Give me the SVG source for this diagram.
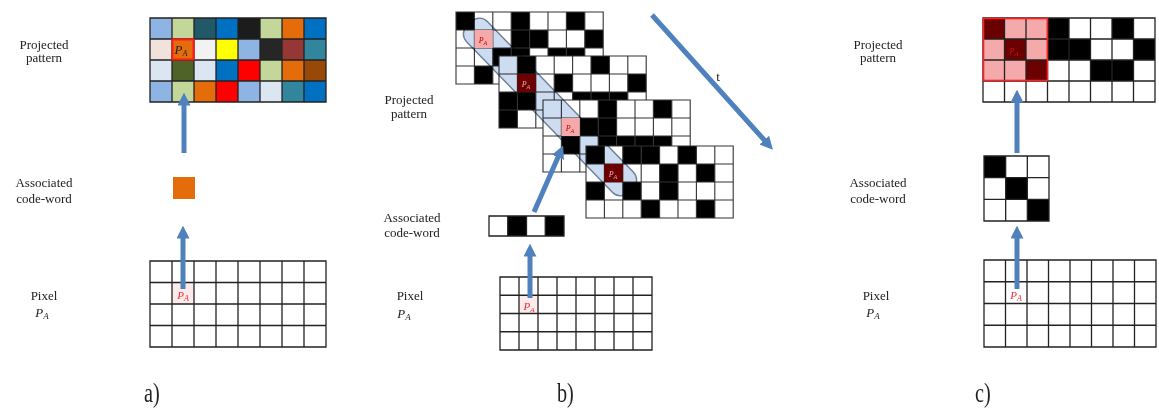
<svg xmlns="http://www.w3.org/2000/svg" xmlns:xlink="http://www.w3.org/1999/xlink" width="1159" height="417" viewBox="0 0 1159 417">
  <style>
    .lbl { font-family: "Liberation Serif", "DejaVu Serif", serif; font-size: 13px; fill: #222; text-anchor: middle; }
    .pi { font-family: "Liberation Serif", "DejaVu Serif", serif; font-style: italic; font-size: 13px; fill: #222; text-anchor: middle; }
    .pr { font-family: "Liberation Serif", "DejaVu Serif", serif; font-style: italic; font-size: 11px; fill: #e8303a; text-anchor: middle; }
    .ps { font-family: "Liberation Serif", "DejaVu Serif", serif; font-style: italic; font-size: 8px; text-anchor: middle; }
    .cap { font-family: "Liberation Serif", "DejaVu Serif", serif; font-size: 27px; fill: #222; }
    .k { fill: #000; }
    .w { fill: #fff; }
    .grid { fill: none; stroke: #222; stroke-width: 1.3; }
    .gridb { fill: none; stroke: #333; stroke-width: 1.1; }
    .arr { stroke: #4f81bd; stroke-width: 5; fill: none; marker-end: url(#ah); }
    .pk { fill: #f4a9ab; }
    .dk { fill: #6b0000; }
  </style>
  <defs>
    <marker id="ah" viewBox="0 0 10 10" refX="2" refY="5" markerWidth="13" markerHeight="13" markerUnits="userSpaceOnUse" orient="auto">
      <path d="M0,0 L10,5 L0,10 z" fill="#4f81bd"/>
    </marker>
    <!-- 8x4 grid used by the stacked patterns (cells 18.4 x 18) -->
    <path id="bwgrid" d="M0 0H147.2V72H0Z M18.4 0V72 M36.8 0V72 M55.2 0V72 M73.6 0V72 M92 0V72 M110.4 0V72 M128.8 0V72 M0 18H147.2 M0 36H147.2 M0 54H147.2"/>
  </defs>

  <rect width="1159" height="417" fill="#fff"/>

  <!-- ===== a) colour-coded pattern ===== -->
  <g id="labels-a">
    <text class="lbl" x="44" y="49">Projected</text>
    <text class="lbl" x="44" y="62">pattern</text>
    <text class="lbl" x="44" y="187">Associated</text>
    <text class="lbl" x="44" y="203">code-word</text>
    <text class="lbl" x="44" y="300">Pixel</text>
    <text class="pi" x="42" y="317">P<tspan font-size="9" dy="2">A</tspan></text>
  </g>

  <g id="pattern-a">
    <rect x="150" y="18" width="22" height="21" fill="#8eb4e3"/>
    <rect x="172" y="18" width="22" height="21" fill="#c4d79b"/>
    <rect x="194" y="18" width="22" height="21" fill="#215968"/>
    <rect x="216" y="18" width="22" height="21" fill="#0070c0"/>
    <rect x="238" y="18" width="22" height="21" fill="#1c1c1c"/>
    <rect x="260" y="18" width="22" height="21" fill="#c4d79b"/>
    <rect x="282" y="18" width="22" height="21" fill="#e46c0a"/>
    <rect x="304" y="18" width="22" height="21" fill="#0070c0"/>

    <rect x="150" y="39" width="22" height="21" fill="#f2e2dc"/>
    <rect x="172" y="39" width="22" height="21" fill="#e46c0a"/>
    <rect x="194" y="39" width="22" height="21" fill="#f2f2f2"/>
    <rect x="216" y="39" width="22" height="21" fill="#ffff00"/>
    <rect x="238" y="39" width="22" height="21" fill="#8eb4e3"/>
    <rect x="260" y="39" width="22" height="21" fill="#262626"/>
    <rect x="282" y="39" width="22" height="21" fill="#953735"/>
    <rect x="304" y="39" width="22" height="21" fill="#31859c"/>

    <rect x="150" y="60" width="22" height="21" fill="#dce6f2"/>
    <rect x="172" y="60" width="22" height="21" fill="#4f6228"/>
    <rect x="194" y="60" width="22" height="21" fill="#dce6f2"/>
    <rect x="216" y="60" width="22" height="21" fill="#0070c0"/>
    <rect x="238" y="60" width="22" height="21" fill="#ff0000"/>
    <rect x="260" y="60" width="22" height="21" fill="#c4d79b"/>
    <rect x="282" y="60" width="22" height="21" fill="#e46c0a"/>
    <rect x="304" y="60" width="22" height="21" fill="#984807"/>

    <rect x="150" y="81" width="22" height="21" fill="#8eb4e3"/>
    <rect x="172" y="81" width="22" height="21" fill="#c4d79b"/>
    <rect x="194" y="81" width="22" height="21" fill="#e46c0a"/>
    <rect x="216" y="81" width="22" height="21" fill="#ff0000"/>
    <rect x="238" y="81" width="22" height="21" fill="#8eb4e3"/>
    <rect x="260" y="81" width="22" height="21" fill="#dce6f2"/>
    <rect x="282" y="81" width="22" height="21" fill="#31859c"/>
    <rect x="304" y="81" width="22" height="21" fill="#0070c0"/>

    <path class="grid" d="M150 18H326V102H150Z M172 18V102 M194 18V102 M216 18V102 M238 18V102 M260 18V102 M282 18V102 M304 18V102 M150 39H326 M150 60H326 M150 81H326"/>
    <rect x="172.5" y="39.5" width="21" height="20" fill="none" stroke="#ff1a1a" stroke-width="2"/>
    <text class="pi" x="181" y="54" font-size="12">P<tspan font-size="8" dy="2">A</tspan></text>
  </g>

  <g id="codeword-a">
    <rect x="173" y="177" width="22" height="22" fill="#e46c0a"/>
  </g>

  <g id="pixels-a">
    <rect x="172" y="282.5" width="22" height="21.5" fill="#fdeaea"/>
    <path class="grid" d="M150 261H326V347H150Z M172 261V347 M194 261V347 M216 261V347 M238 261V347 M260 261V347 M282 261V347 M304 261V347 M150 282.5H326 M150 304H326 M150 325.5H326"/>
    <text class="pr" x="183" y="299">P<tspan font-size="8" dy="2">A</tspan></text>
  </g>

  <!-- ===== b) time-multiplexed binary patterns ===== -->
  <g id="labels-b">
    <text class="lbl" x="409" y="104">Projected</text>
    <text class="lbl" x="409" y="118">pattern</text>
    <text class="lbl" x="412" y="222">Associated</text>
    <text class="lbl" x="412" y="237">code-word</text>
    <text class="lbl" x="410" y="300">Pixel</text>
    <text class="pi" x="404" y="318">P<tspan font-size="9" dy="2">A</tspan></text>
  </g>

  <g id="pattern-b1" transform="translate(456,12)">
    <rect width="147.2" height="72" class="w"/>
    <rect x="0" y="0" width="18.4" height="18" class="k"/>
    <rect x="55.2" y="0" width="18.4" height="18" class="k"/>
    <rect x="110.4" y="0" width="18.4" height="18" class="k"/>
    <rect x="55.2" y="18" width="18.4" height="18" class="k"/>
    <rect x="73.6" y="18" width="18.4" height="18" class="k"/>
    <rect x="128.8" y="18" width="18.4" height="18" class="k"/>
    <rect x="36.8" y="36" width="18.4" height="18" class="k"/>
    <rect x="55.2" y="36" width="18.4" height="18" class="k"/>
    <rect x="92" y="36" width="18.4" height="18" class="k"/>
    <rect x="110.4" y="36" width="18.4" height="18" class="k"/>
    <rect x="18.4" y="54" width="18.4" height="18" class="k"/>
    <rect x="73.6" y="54" width="18.4" height="18" class="k"/>
    <rect x="128.8" y="54" width="18.4" height="18" class="k"/>
    <use xlink:href="#bwgrid" class="gridb"/>
  </g>

  <g id="pattern-b2" transform="translate(499,56)">
    <rect width="147.2" height="72" class="w"/>
    <rect x="18.4" y="0" width="18.4" height="18" class="k"/>
    <rect x="92" y="0" width="18.4" height="18" class="k"/>
    <rect x="18.4" y="18" width="18.4" height="18" class="k"/>
    <rect x="55.2" y="18" width="18.4" height="18" class="k"/>
    <rect x="128.8" y="18" width="18.4" height="18" class="k"/>
    <rect x="0" y="36" width="18.4" height="18" class="k"/>
    <rect x="18.4" y="36" width="18.4" height="18" class="k"/>
    <rect x="73.6" y="36" width="18.4" height="18" class="k"/>
    <rect x="92" y="36" width="18.4" height="18" class="k"/>
    <rect x="110.4" y="36" width="18.4" height="18" class="k"/>
    <rect x="0" y="54" width="18.4" height="18" class="k"/>
    <rect x="55.2" y="54" width="18.4" height="18" class="k"/>
    <rect x="110.4" y="54" width="18.4" height="18" class="k"/>
    <use xlink:href="#bwgrid" class="gridb"/>
  </g>

  <g id="pattern-b3" transform="translate(543,100)">
    <rect width="147.2" height="72" class="w"/>
    <rect x="55.2" y="0" width="18.4" height="18" class="k"/>
    <rect x="110.4" y="0" width="18.4" height="18" class="k"/>
    <rect x="36.8" y="18" width="18.4" height="18" class="k"/>
    <rect x="55.2" y="18" width="18.4" height="18" class="k"/>
    <rect x="18.4" y="36" width="18.4" height="18" class="k"/>
    <rect x="55.2" y="36" width="18.4" height="18" class="k"/>
    <rect x="73.6" y="36" width="18.4" height="18" class="k"/>
    <rect x="92" y="36" width="18.4" height="18" class="k"/>
    <rect x="110.4" y="36" width="18.4" height="18" class="k"/>
    <rect x="73.6" y="54" width="18.4" height="18" class="k"/>
    <rect x="110.4" y="54" width="18.4" height="18" class="k"/>
    <use xlink:href="#bwgrid" class="gridb"/>
  </g>

  <g id="pattern-b4" transform="translate(586,146)">
    <rect width="147.2" height="72" class="w"/>
    <rect x="0" y="0" width="18.4" height="18" class="k"/>
    <rect x="36.8" y="0" width="18.4" height="18" class="k"/>
    <rect x="55.2" y="0" width="18.4" height="18" class="k"/>
    <rect x="92" y="0" width="18.4" height="18" class="k"/>
    <rect x="18.4" y="18" width="18.4" height="18" class="k"/>
    <rect x="73.6" y="18" width="18.4" height="18" class="k"/>
    <rect x="110.4" y="18" width="18.4" height="18" class="k"/>
    <rect x="0" y="36" width="18.4" height="18" class="k"/>
    <rect x="36.8" y="36" width="18.4" height="18" class="k"/>
    <rect x="73.6" y="36" width="18.4" height="18" class="k"/>
    <rect x="55.2" y="54" width="18.4" height="18" class="k"/>
    <rect x="110.4" y="54" width="18.4" height="18" class="k"/>
    <use xlink:href="#bwgrid" class="gridb"/>
  </g>

  <!-- band following the same pixel through the sequence (tints white cells, keeps black cells dark) -->
  <g id="track-b">
    <rect x="-116" y="-14.5" width="232" height="29" rx="11" transform="translate(550,107) rotate(45.9)" fill="#cddcf0" stroke="#6d7f95" stroke-width="1.4" style="mix-blend-mode:multiply"/>
    <rect x="474.4" y="30" width="18.4" height="18" class="pk"/>
    <rect x="517.4" y="74" width="18.4" height="18" class="dk"/>
    <rect x="561.4" y="118" width="18.4" height="18" class="pk"/>
    <rect x="604.4" y="164" width="18.4" height="18" class="dk"/>
    <text class="ps" x="483" y="43" fill="#c00000">P<tspan font-size="6" dy="1.5">A</tspan></text>
    <text class="ps" x="526" y="87" fill="#f4a9ab">P<tspan font-size="6" dy="1.5">A</tspan></text>
    <text class="ps" x="570" y="131" fill="#c00000">P<tspan font-size="6" dy="1.5">A</tspan></text>
    <text class="ps" x="613" y="177" fill="#f4a9ab">P<tspan font-size="6" dy="1.5">A</tspan></text>
  </g>

  <g id="codeword-b">
    <rect x="489" y="216" width="75" height="20" class="w"/>
    <rect x="507.75" y="216" width="18.75" height="20" class="k"/>
    <rect x="545.25" y="216" width="18.75" height="20" class="k"/>
    <path class="grid" d="M489 216H564V236H489Z M507.75 216V236 M526.5 216V236 M545.25 216V236"/>
  </g>

  <g id="pixels-b">
    <rect x="519" y="295.25" width="19" height="18.25" fill="#fdeaea"/>
    <path class="grid" d="M500 277H652V350H500Z M519 277V350 M538 277V350 M557 277V350 M576 277V350 M595 277V350 M614 277V350 M633 277V350 M500 295.25H652 M500 313.5H652 M500 331.75H652"/>
    <text class="pr" x="529" y="310" font-size="10">P<tspan font-size="7" dy="2">A</tspan></text>
  </g>

  <g id="time-axis">
    <text class="lbl" x="718" y="81" font-size="11">t</text>
  </g>

  <!-- ===== c) spatial neighbourhood pattern ===== -->
  <g id="labels-c">
    <text class="lbl" x="878" y="49">Projected</text>
    <text class="lbl" x="878" y="62">pattern</text>
    <text class="lbl" x="878" y="187">Associated</text>
    <text class="lbl" x="878" y="203">code-word</text>
    <text class="lbl" x="876" y="300">Pixel</text>
    <text class="pi" x="873" y="317">P<tspan font-size="9" dy="2">A</tspan></text>
  </g>

  <g id="pattern-c">
    <rect x="983" y="18" width="172" height="84" class="w"/>
    <!-- 3x3 window around the pixel -->
    <rect x="983" y="18" width="64.5" height="63" class="pk"/>
    <rect x="983" y="18" width="21.5" height="21" class="dk"/>
    <rect x="1004.5" y="39" width="21.5" height="21" class="dk"/>
    <rect x="1026" y="60" width="21.5" height="21" class="dk"/>
    <!-- remaining binary cells -->
    <rect x="1047.5" y="18" width="21.5" height="21" class="k"/>
    <rect x="1112" y="18" width="21.5" height="21" class="k"/>
    <rect x="1047.5" y="39" width="21.5" height="21" class="k"/>
    <rect x="1069" y="39" width="21.5" height="21" class="k"/>
    <rect x="1133.5" y="39" width="21.5" height="21" class="k"/>
    <rect x="1090.5" y="60" width="21.5" height="21" class="k"/>
    <rect x="1112" y="60" width="21.5" height="21" class="k"/>
    <path class="grid" d="M983 18H1155V102H983Z M1004.5 18V102 M1026 18V102 M1047.5 18V102 M1069 18V102 M1090.5 18V102 M1112 18V102 M1133.5 18V102 M983 39H1155 M983 60H1155 M983 81H1155"/>
    <rect x="983.5" y="18.5" width="64" height="62" fill="none" stroke="#ff2020" stroke-width="1.6"/>
    <text class="ps" x="1014" y="54" font-size="10" fill="#d01010">P<tspan font-size="7" dy="2">A</tspan></text>
  </g>

  <g id="codeword-c">
    <rect x="984" y="156" width="65" height="65" class="w"/>
    <rect x="984" y="156" width="21.67" height="21.67" class="k"/>
    <rect x="1005.67" y="177.67" width="21.67" height="21.67" class="k"/>
    <rect x="1027.33" y="199.33" width="21.67" height="21.67" class="k"/>
    <path class="grid" d="M984 156H1049V221H984Z M1005.67 156V221 M1027.33 156V221 M984 177.67H1049 M984 199.33H1049"/>
  </g>

  <g id="pixels-c">
    <path class="grid" d="M984 260H1156V347H984Z M1005.5 260V347 M1027 260V347 M1048.5 260V347 M1070 260V347 M1091.5 260V347 M1113 260V347 M1134.5 260V347 M984 281.75H1156 M984 303.5H1156 M984 325.25H1156"/>
    <text class="pr" x="1016" y="299">P<tspan font-size="8" dy="2">A</tspan></text>
  </g>

  <!-- connectors -->
  <g id="connectors">
    <line class="arr" x1="184" y1="153" x2="184" y2="103"/>
    <line class="arr" x1="183" y1="289" x2="183" y2="236"/>
    <line class="arr" x1="530" y1="298" x2="530" y2="254"/>
    <line class="arr" x1="534" y1="212" x2="559" y2="155"/>
    <line class="arr" x1="652" y1="15" x2="766" y2="142"/>
    <line class="arr" x1="1017" y1="153" x2="1017" y2="100"/>
    <line class="arr" x1="1017" y1="289" x2="1017" y2="236"/>
  </g>

  <g id="captions">
    <text class="cap" transform="translate(144,402) scale(0.75,1)">a)</text>
    <text class="cap" transform="translate(557,402) scale(0.75,1)">b)</text>
    <text class="cap" transform="translate(975,402) scale(0.75,1)">c)</text>
  </g>
</svg>
